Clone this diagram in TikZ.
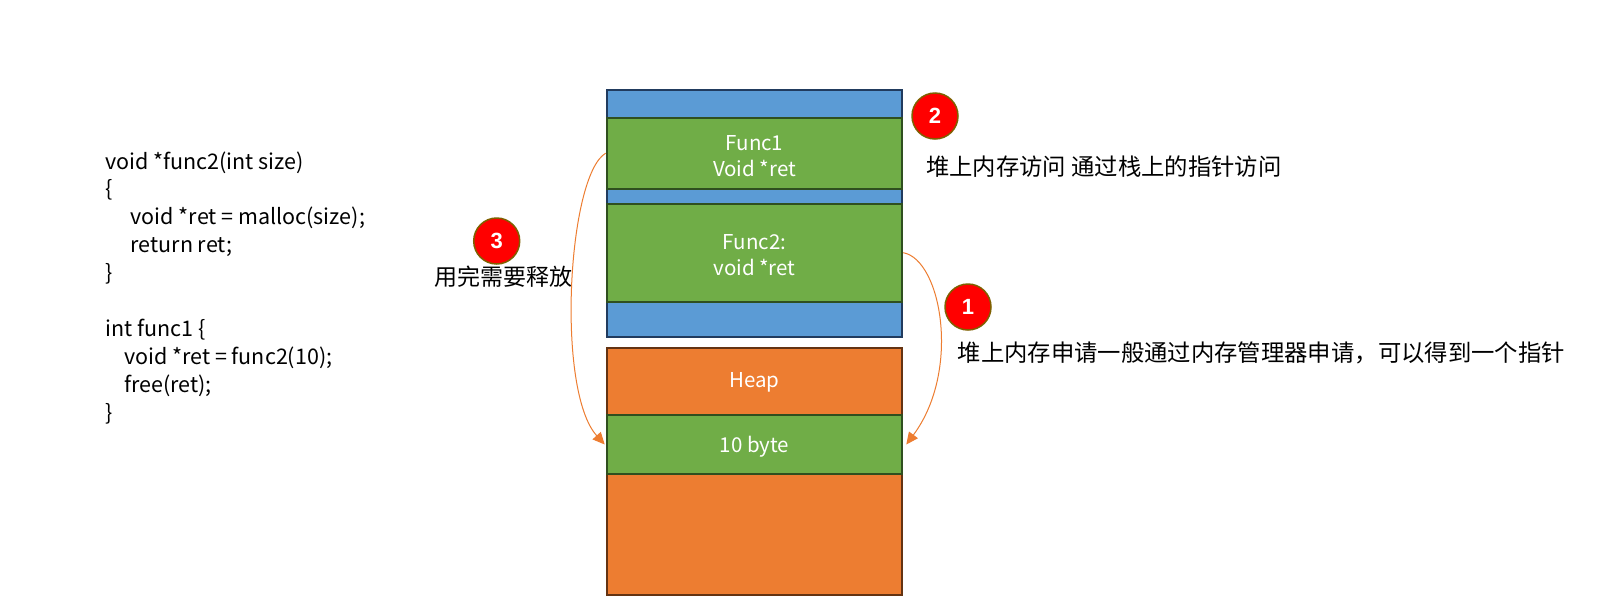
\documentclass[tikz,border=0pt]{standalone}
\usepackage{fontspec}
\setmainfont{Noto Sans CJK SC}
\newfontfamily\numfont{Liberation Sans}
\usetikzlibrary{arrows.meta}
\definecolor{cblue}{HTML}{5B9BD5}
\definecolor{cbluedk}{HTML}{213B5E}
\definecolor{cgreen}{HTML}{70AD47}
\definecolor{cgreendk}{HTML}{2F4F1F}
\definecolor{corange}{HTML}{ED7D31}
\definecolor{corangedk}{HTML}{643312}
\definecolor{cred}{HTML}{FF0000}
\definecolor{credbd}{HTML}{7F6000}
\tikzset{
  blk/.style={rectangle, inner sep=0pt, minimum width=295.6pt, line width=2pt},
  bluebox/.style={blk, fill=cblue, draw=cbluedk},
  greenbox/.style={blk, fill=cgreen, draw=cgreendk},
  orangebox/.style={blk, fill=corange, draw=corangedk},
  boxtext/.style={text=white, inner sep=0pt, font=\fontsize{20.5}{26}\selectfont, align=center},
  badge/.style={circle, fill=cred, draw=credbd, line width=1.5pt, minimum size=46pt, inner sep=0pt,
    text=white, font=\numfont\bfseries\fontsize{22}{24}\selectfont},
  note/.style={inner sep=0pt, anchor=west, font=\fontsize{23.35}{28}\selectfont},
  code/.style={inner sep=0pt, anchor=base west, font=\fontsize{21.5}{26}\selectfont},
  link/.style={draw=corange, line width=1pt, -{Triangle[length=12pt,width=11pt]}, fill=none}
}
\begin{document}
\begin{tikzpicture}[x=1pt,y=-1pt]
\useasboundingbox[fill=white] (0,0) rectangle (1609,600);

% stack
\node[bluebox, minimum height=246.7pt] (stack) at (754.5,213.35) {};
\node[greenbox, minimum height=71pt] (func1) at (754.5,153.2) {};
\node[greenbox, minimum height=98pt] (func2) at (754.5,252.7) {};
\node[boxtext] (func1label) at (754.5,155.7) {Func1\\Void *ret};
\node[boxtext] (func2label) at (754.5,255.2) {Func2:\\void *ret};

% heap
\node[orangebox, minimum height=247pt] (heap) at (754.5,471.5) {};
\node[boxtext] (heaplabel) at (754.5,382) {Heap};
\node[greenbox, minimum height=59pt] (bytes) at (754.5,444.5) {};
\node[boxtext] (byteslabel) at (754.5,447) {10 byte};

% badges
\node[badge] (b2) at (935,116) {2};
\node[badge] (b1) at (968,307) {1};
\node[badge] (b3) at (496.7,241) {3};

% notes
\node[note] (n2) at (926,166.7) {堆上内存访问 通过栈上的指针访问};
\node[note] (n1) at (957.5,353) {堆上内存申请一般通过内存管理器申请，可以得到一个指针};
\node[note, anchor=center, font=\fontsize{23}{28}\selectfont] (n3) at (503.3,276.7) {用完需要释放};

% code
\node[code] (c1) at (105,169) {void *func2(int size)};
\node[code] (c2) at (105,196.9) {\{};
\node[code] (c3) at (130.5,224.8) {void *ret = malloc(size);};
\node[code] (c4) at (130.5,252.7) {return ret;};
\node[code] (c5) at (105,280.6) {\}};
\node[code] (c7) at (105,336.4) {int func1 \{};
\node[code] (c8) at (124,364.3) {void *ret = func2(10);};
\node[code] (c9) at (124,392.2) {free(ret);};
\node[code] (c10) at (105,420.1) {\}};

% connectors
\draw[link] (func2.east) .. controls +(38,7) and +(55,-74) .. ([xshift=3pt]bytes.east);
\draw[link] (func1.west) .. controls +(-38,22) and +(-49,-54) .. ([xshift=-1pt]bytes.west);
\end{tikzpicture}
\end{document}
